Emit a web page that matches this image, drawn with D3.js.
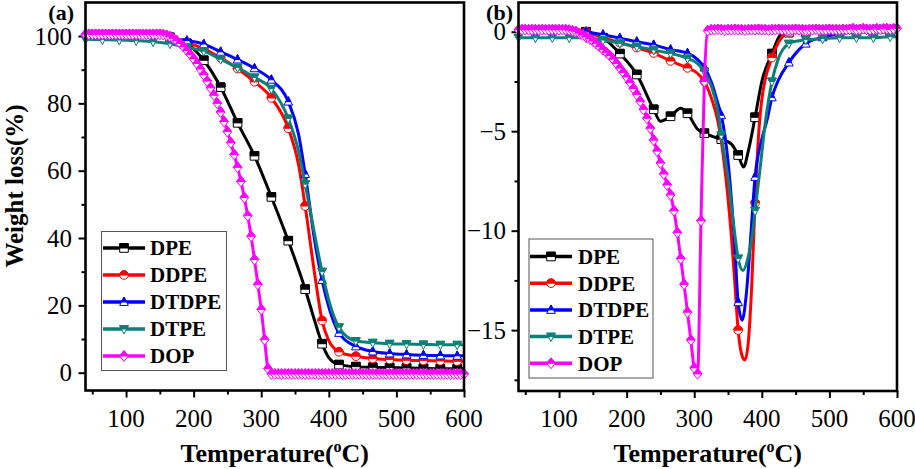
<!DOCTYPE html>
<html><head><meta charset="utf-8">
<script src="https://cdn.jsdelivr.net/npm/d3@7"></script>
<style>
body{margin:0;background:#fff}
svg{display:block}
text{font-family:"Liberation Serif","Times New Roman",serif;fill:#000}
</style>
</head><body>
<svg id="c" width="915" height="469"></svg>
<script>
// ---------------- data ----------------
const seriesNames = ["DPE","DDPE","DTDPE","DTPE","DOP"];
const seriesColors = ["#000000","#ff0000","#0000ff","#0a8078","#ff00ff"];
const seriesSymbols = ["square","circle","triangleUp","triangleDown","diamond"];

const xTicksMajor = [100,200,300,400,500,600];
const xTicksMinor = [50,150,250,350,450,550];
const yTicksA = [0,20,40,60,80,100];
const yMinorA = [10,30,50,70,90,110];
const yTicksB = [0,-5,-10,-15];
const yMinorB = [-2.5,-7.5,-12.5,-17.5];

// Panel (a): TG, weight (%)
const tgT_DPE = [165,190,215,240,265,290,315,340,365,380,390,400,415,440,465,490,515,540,565,590,600];
const tgW_DPE = [99.6,97.8,92.8,84.8,74.2,64.4,52.2,39.2,24.8,14.8,8.6,4.5,2.4,1.8,1.6,1.5,1.4,1.3,1.2,1.2,1.2];
const tgT_DDPE = [165,190,215,240,265,290,315,340,355,365,380,390,400,415,440,465,490,515,540,565,590,600];
const tgW_DDPE = [99.5,98.0,96.2,93.5,90.3,86.4,81.6,72.6,62,49.5,28,15.5,9.5,6.2,4.9,4.2,3.9,3.7,3.6,3.5,3.4,3.4];
const tgT_DTDPE = [165,190,215,240,265,290,315,340,355,365,380,390,400,415,440,465,490,515,540,565,590,600];
const tgW_DTDPE = [99.5,98.6,97.6,95.3,93,90.4,87,80.5,71,59,38,27.5,19.5,11.8,7.8,6.3,5.7,5.4,5.2,5.1,5.0,5.0];
const tgT_DTPE = [40,65,90,115,140,165,190,215,240,265,290,315,340,355,365,380,390,400,415,440,465,490,515,540,565,590,600];
const tgW_DTPE = [99.0,98.9,98.8,98.6,98.3,97.7,96.6,95.5,93.1,90.6,87.7,84.3,75.5,66,56,40,30,21.5,13.5,9.4,8.9,8.6,8.5,8.4,8.3,8.3,8.3];
const dopTemps = [40,45,50,55,60,65,70,75,80,85,90,95,100,105,110,115,120,125,130,135,140,145,150,155,160,165,170,175,180,185,190,195,200,205,210,215,220,225,230,235,240,245,250,255,260,265,270,275,280,285,290,295,300,305,310,315,320,325,330,335,340,345,350,355,360,365,370,375,380,385,390,395,400,405,410,415,420,425,430,435,440,445,450,455,460,465,470,475,480,485,490,495,500,505,510,515,520,525,530,535,540,545,550,555,560,565,570,575,580,585,590,595,600];
const tgW_DOP = [100.5,100.5,100.5,100.5,100.5,100.5,100.5,100.5,100.5,100.5,100.5,100.5,100.5,100.5,100.5,100.5,100.5,100.5,100.5,100.5,100.5,100.5,100.5,
  100.4,100.2,99.8,99.3,98.6,97.8,96.8,95.7,94.5,93.2,91.8,90.2,88.5,86.6,84.6,82.4,80.0,77.4,74.6,71.6,68.3,64.8,61.0,56.8,52,46.6,40.5,33.6,26.2,18.8,9.8,1.2,-0.4,
  -0.4,-0.4,-0.4,-0.4,-0.4,-0.4,-0.4,-0.4,-0.4,-0.4,-0.4,-0.4,-0.4,-0.4,-0.4,-0.4,-0.4,-0.4,-0.4,-0.4,-0.4,-0.4,-0.4,-0.4,-0.4,-0.4,-0.4,-0.4,-0.4,
  -0.4,-0.4,-0.4,-0.4,-0.4,-0.4,-0.4,-0.4,-0.4,-0.4,-0.4,-0.4,-0.4,-0.4,-0.4,-0.4,-0.4,-0.4,-0.4,-0.4,-0.4,-0.4,-0.4,-0.4,-0.4,-0.4,-0.4,-0.4];

// Panel (b): DTG
const dtgT_DPE = [140,165,190,215,240,250,265,280,290,305,315,330,340,355,365,373,380,390,400,415,428,440,465,490,515,540,565,590,600];
const dtgV_DPE = [0,-0.3,-1.1,-2.15,-3.9,-4.5,-4.25,-3.85,-4.1,-4.9,-5.1,-5.3,-5.4,-5.65,-6.2,-6.8,-6.0,-4.3,-2.5,-1.1,-0.15,-0.05,0,0,0,0,0,0,0];
const dtgT_DDPE = [140,165,190,215,240,265,290,305,315,325,335,345,355,360,365,370,375,380,385,390,395,400,415,425,435,440,465,490,515,540,565,590,600];
const dtgV_DDPE = [0,-0.3,-0.55,-0.8,-1.07,-1.47,-1.82,-2.1,-2.5,-3.3,-4.5,-6.8,-10.3,-12.6,-15.0,-16.2,-16.5,-15.6,-12.8,-8.6,-5.3,-3.4,-1.3,-0.5,-0.1,0,0,0,0,0,0,0,0];
const dtgT_DTDPE = [140,165,190,215,240,265,290,305,315,325,335,340,350,360,365,371,377,383,390,400,408,415,425,440,455,465,490,515,540,565,590,600];
const dtgV_DTDPE = [0,-0.15,-0.32,-0.5,-0.66,-0.9,-1.08,-1.4,-1.8,-2.5,-3.6,-4.2,-6.5,-10.8,-13.6,-14.5,-13.2,-10.6,-7.3,-5.4,-4.4,-3.3,-2.4,-1.55,-0.9,-0.6,-0.28,-0.1,0,0,0,0];
const dtgT_DTPE = [40,65,90,115,140,165,190,215,240,265,290,305,315,325,335,340,351,358,365,372,380,386,390,397,405,415,425,440,455,465,490,515,540,565,590,600];
const dtgV_DTPE = [-0.3,-0.3,-0.3,-0.3,-0.3,-0.42,-0.58,-0.75,-0.92,-1.09,-1.34,-1.6,-2.0,-2.7,-4.0,-5.2,-7.6,-9.6,-11.4,-12.0,-11.3,-10.2,-9.0,-7.0,-4.6,-2.5,-1.3,-0.6,-0.45,-0.4,-0.35,-0.3,-0.3,-0.3,-0.25,-0.25];
const dtgV_DOP = [0.1,0.1,0.1,0.1,0.1,0.1,0.1,0.1,0.1,0.1,0.1,0.1,0.1,0.1,0.1,
  0.08,0.05,0.0,-0.08,-0.17,-0.26,-0.36,-0.47,-0.6,-0.75,-0.9,-1.05,-1.2,-1.38,-1.6,-1.83,-2.05,-2.28,-2.55,-2.85,-3.15,-3.5,-3.9,-4.35,-4.85,-5.45,-6.0,-6.6,-7.15,-7.7,-8.2,-9.0,-10.1,-11.4,-12.7,-14.1,-15.5,-16.9,-17.2,-9.5,-2.5,0.05,
  0.1,0.1,0.12,0.1,0.08,0.1,0.1,0.12,0.1,0.1,0.08,0.1,0.1,0.1,0.12,0.1,0.1,0.08,0.1,0.1,0.12,0.1,0.1,0.1,0.1,0.12,0.1,0.1,0.08,0.1,
  0.1,0.12,0.1,0.1,0.1,0.12,0.1,0.1,0.1,0.12,0.1,0.12,0.15,0.1,0.12,0.15,0.12,0.1,0.12,0.15,0.12,0.15,0.15,0.12,0.15,0.17];

const panelA = [
  {T: tgT_DPE, V: tgW_DPE, step: 25},
  {T: tgT_DDPE, V: tgW_DDPE, step: 25},
  {T: tgT_DTDPE, V: tgW_DTDPE, step: 25},
  {T: tgT_DTPE, V: tgW_DTPE, step: 25},
  {T: dopTemps, V: tgW_DOP, step: 5}
];
const panelB = [
  {T: dtgT_DPE, V: dtgV_DPE, step: 25},
  {T: dtgT_DDPE, V: dtgV_DDPE, step: 25},
  {T: dtgT_DTDPE, V: dtgV_DTDPE, step: 25},
  {T: dtgT_DTPE, V: dtgV_DTPE, step: 25},
  {T: dopTemps, V: dtgV_DOP, step: 5}
];

// ---------------- drawing ----------------
const svg = d3.select("#c");
svg.append("rect").attr("width",915).attr("height",469).attr("fill","#fff");

function markerPaths(sym, s){
  switch(sym){
    case "square": return [`M${-s},${-s}H${s}V${s}H${-s}Z`, `M${-s},${-s}H${s}V0H${-s}Z`];
    case "circle": return [`M${-s},0A${s},${s} 0 1,1 ${s},0A${s},${s} 0 1,1 ${-s},0Z`, `M${-s},0A${s},${s} 0 0,1 ${s},0Z`];
    case "triangleUp": { const a=1.15*s,b=0.8*s; const w=s*a/(a+b);
      return [`M0,${-a}L${s},${b}L${-s},${b}Z`, `M0,${-a}L${w},0L${-w},0Z`]; }
    case "triangleDown": { const a=1.15*s,b=0.8*s; const w=s*a/(a+b);
      return [`M0,${a}L${s},${-b}L${-s},${-b}Z`, `M${-s},${-b}L${s},${-b}L${w},0L${-w},0Z`]; }
    case "diamond": { const a=1.25*s;
      return [`M0,${-a}L${s},0L0,${a}L${-s},0Z`, `M0,${-a}L${s},0L${-s},0Z`]; }
  }
}

function drawMarker(g, x, y, sym, color, s){
  const [full, top] = markerPaths(sym, s);
  const m = g.append("g").attr("transform",`translate(${x},${y})`);
  m.append("path").attr("d", full).attr("fill","#fff").attr("stroke",color).attr("stroke-width",1);
  m.append("path").attr("d", top).attr("fill",color).attr("stroke",color).attr("stroke-width",1);
}

function drawPanel(p){
  const x = d3.scaleLinear().domain([40,600]).range([p.left, p.right]);
  const y = d3.scaleLinear().domain(p.yDomain).range([p.bottom, p.top]);
  const g = svg.append("g");

  const tickStyle = sel => { sel.select(".domain").remove(); sel.selectAll("line").attr("stroke","#000").attr("stroke-width",2); sel.selectAll("text").remove(); };
  g.append("g").attr("transform",`translate(0,${p.bottom})`).call(d3.axisBottom(x).tickValues(xTicksMajor).tickSize(7).tickFormat("")).call(tickStyle);
  g.append("g").attr("transform",`translate(0,${p.bottom})`).call(d3.axisBottom(x).tickValues(xTicksMinor).tickSize(4).tickFormat("")).call(tickStyle);
  g.append("g").attr("transform",`translate(${p.left},0)`).call(d3.axisLeft(y).tickValues(p.yTicks).tickSize(7).tickFormat("")).call(tickStyle);
  g.append("g").attr("transform",`translate(${p.left},0)`).call(d3.axisLeft(y).tickValues(p.yMinor.filter(v=>v>=p.yDomain[0]&&v<=p.yDomain[1])).tickSize(4).tickFormat("")).call(tickStyle);

  g.selectAll(".xl").data(xTicksMajor).join("text")
    .attr("x", d=>x(d)).attr("y", p.bottom+36).attr("text-anchor","middle")
    .style("font-size","25px").text(d=>d);
  const fmt = d3.format("d");
  g.selectAll(".yl").data(p.yTicks).join("text")
    .attr("x", p.ylabX).attr("y", d=>y(d)).attr("dy","0.34em").attr("text-anchor","end")
    .style("font-size","25px").text(d=>fmt(d));

  const line = d3.line().x(d=>x(d[0])).y(d=>y(d[1])).curve(d3.curveMonotoneX);
  p.series.forEach((s,i)=>{
    const pts = s.T.map((t,k)=>[t, s.V[k]]);
    const sg = g.append("g");
    sg.append("path").datum(pts).attr("d", line).attr("fill","none")
      .attr("stroke", seriesColors[i]).attr("stroke-width",3).attr("stroke-linejoin","round");
    pts.filter(d => s.step===5 ? true : ((d[0]-15) % 25 === 0)).forEach(d=>{
      drawMarker(sg, x(d[0]), y(d[1]), seriesSymbols[i], seriesColors[i], 4.3);
    });
  });

  g.append("rect").attr("x",p.left).attr("y",p.top).attr("width",p.right-p.left).attr("height",p.bottom-p.top)
    .attr("fill","none").attr("stroke","#000").attr("stroke-width",2.6);

  const L = p.legend;
  g.append("rect").attr("x",L.x).attr("y",L.y).attr("width",L.w).attr("height",L.h)
    .attr("fill","#fff").attr("stroke","#555").attr("stroke-width",1);
  seriesNames.forEach((nm,i)=>{
    const yy = L.y0 + i*L.dy;
    g.append("line").attr("x1",L.lx1).attr("x2",L.lx2).attr("y1",yy).attr("y2",yy)
      .attr("stroke",seriesColors[i]).attr("stroke-width",3.5);
    drawMarker(g, (L.lx1+L.lx2)/2, yy, seriesSymbols[i], seriesColors[i], 4.3);
    g.append("text").attr("x",L.tx).attr("y",yy).attr("dy","0.35em")
      .style("font-size","21px").style("font-weight","bold").text(nm);
  });

  const xt = g.append("text").attr("x",(p.left+p.right)/2).attr("y",462).attr("text-anchor","middle")
    .style("font-size","26px").style("font-weight","bold");
  xt.append("tspan").text("Temperature(");
  xt.append("tspan").attr("dy",-10).style("font-size","16px").text("o");
  xt.append("tspan").attr("dy",10).text("C)");

  g.append("text").attr("x",p.labX).attr("y",p.labY).attr("text-anchor","end")
    .style("font-size","22px").style("font-weight","bold").text(p.label);
}

drawPanel({
  left:85.5, right:464, top:2.5, bottom:390.5,
  yDomain:[-5.29,109.95], yTicks:yTicksA, yMinor:yMinorA, ylabX:72,
  series: panelA, label:"(a)", labX:74, labY:20,
  legend:{x:101.5,y:231.5,w:125,h:139,y0:248,dy:27,lx1:103,lx2:145,tx:150}
});
drawPanel({
  left:518.5, right:897, top:2.5, bottom:391,
  yDomain:[-18.06,1.47], yTicks:yTicksB, yMinor:yMinorB, ylabX:506,
  series: panelB, label:"(b)", labX:513, labY:20,
  legend:{x:529,y:239,w:124,h:139,y0:256.5,dy:26.7,lx1:530,lx2:572,tx:578}
});

svg.append("text").attr("transform","translate(23,186) rotate(-90)").attr("text-anchor","middle")
  .style("font-size","25px").style("font-weight","bold").text("Weight loss(%)");
</script>
</body></html>
